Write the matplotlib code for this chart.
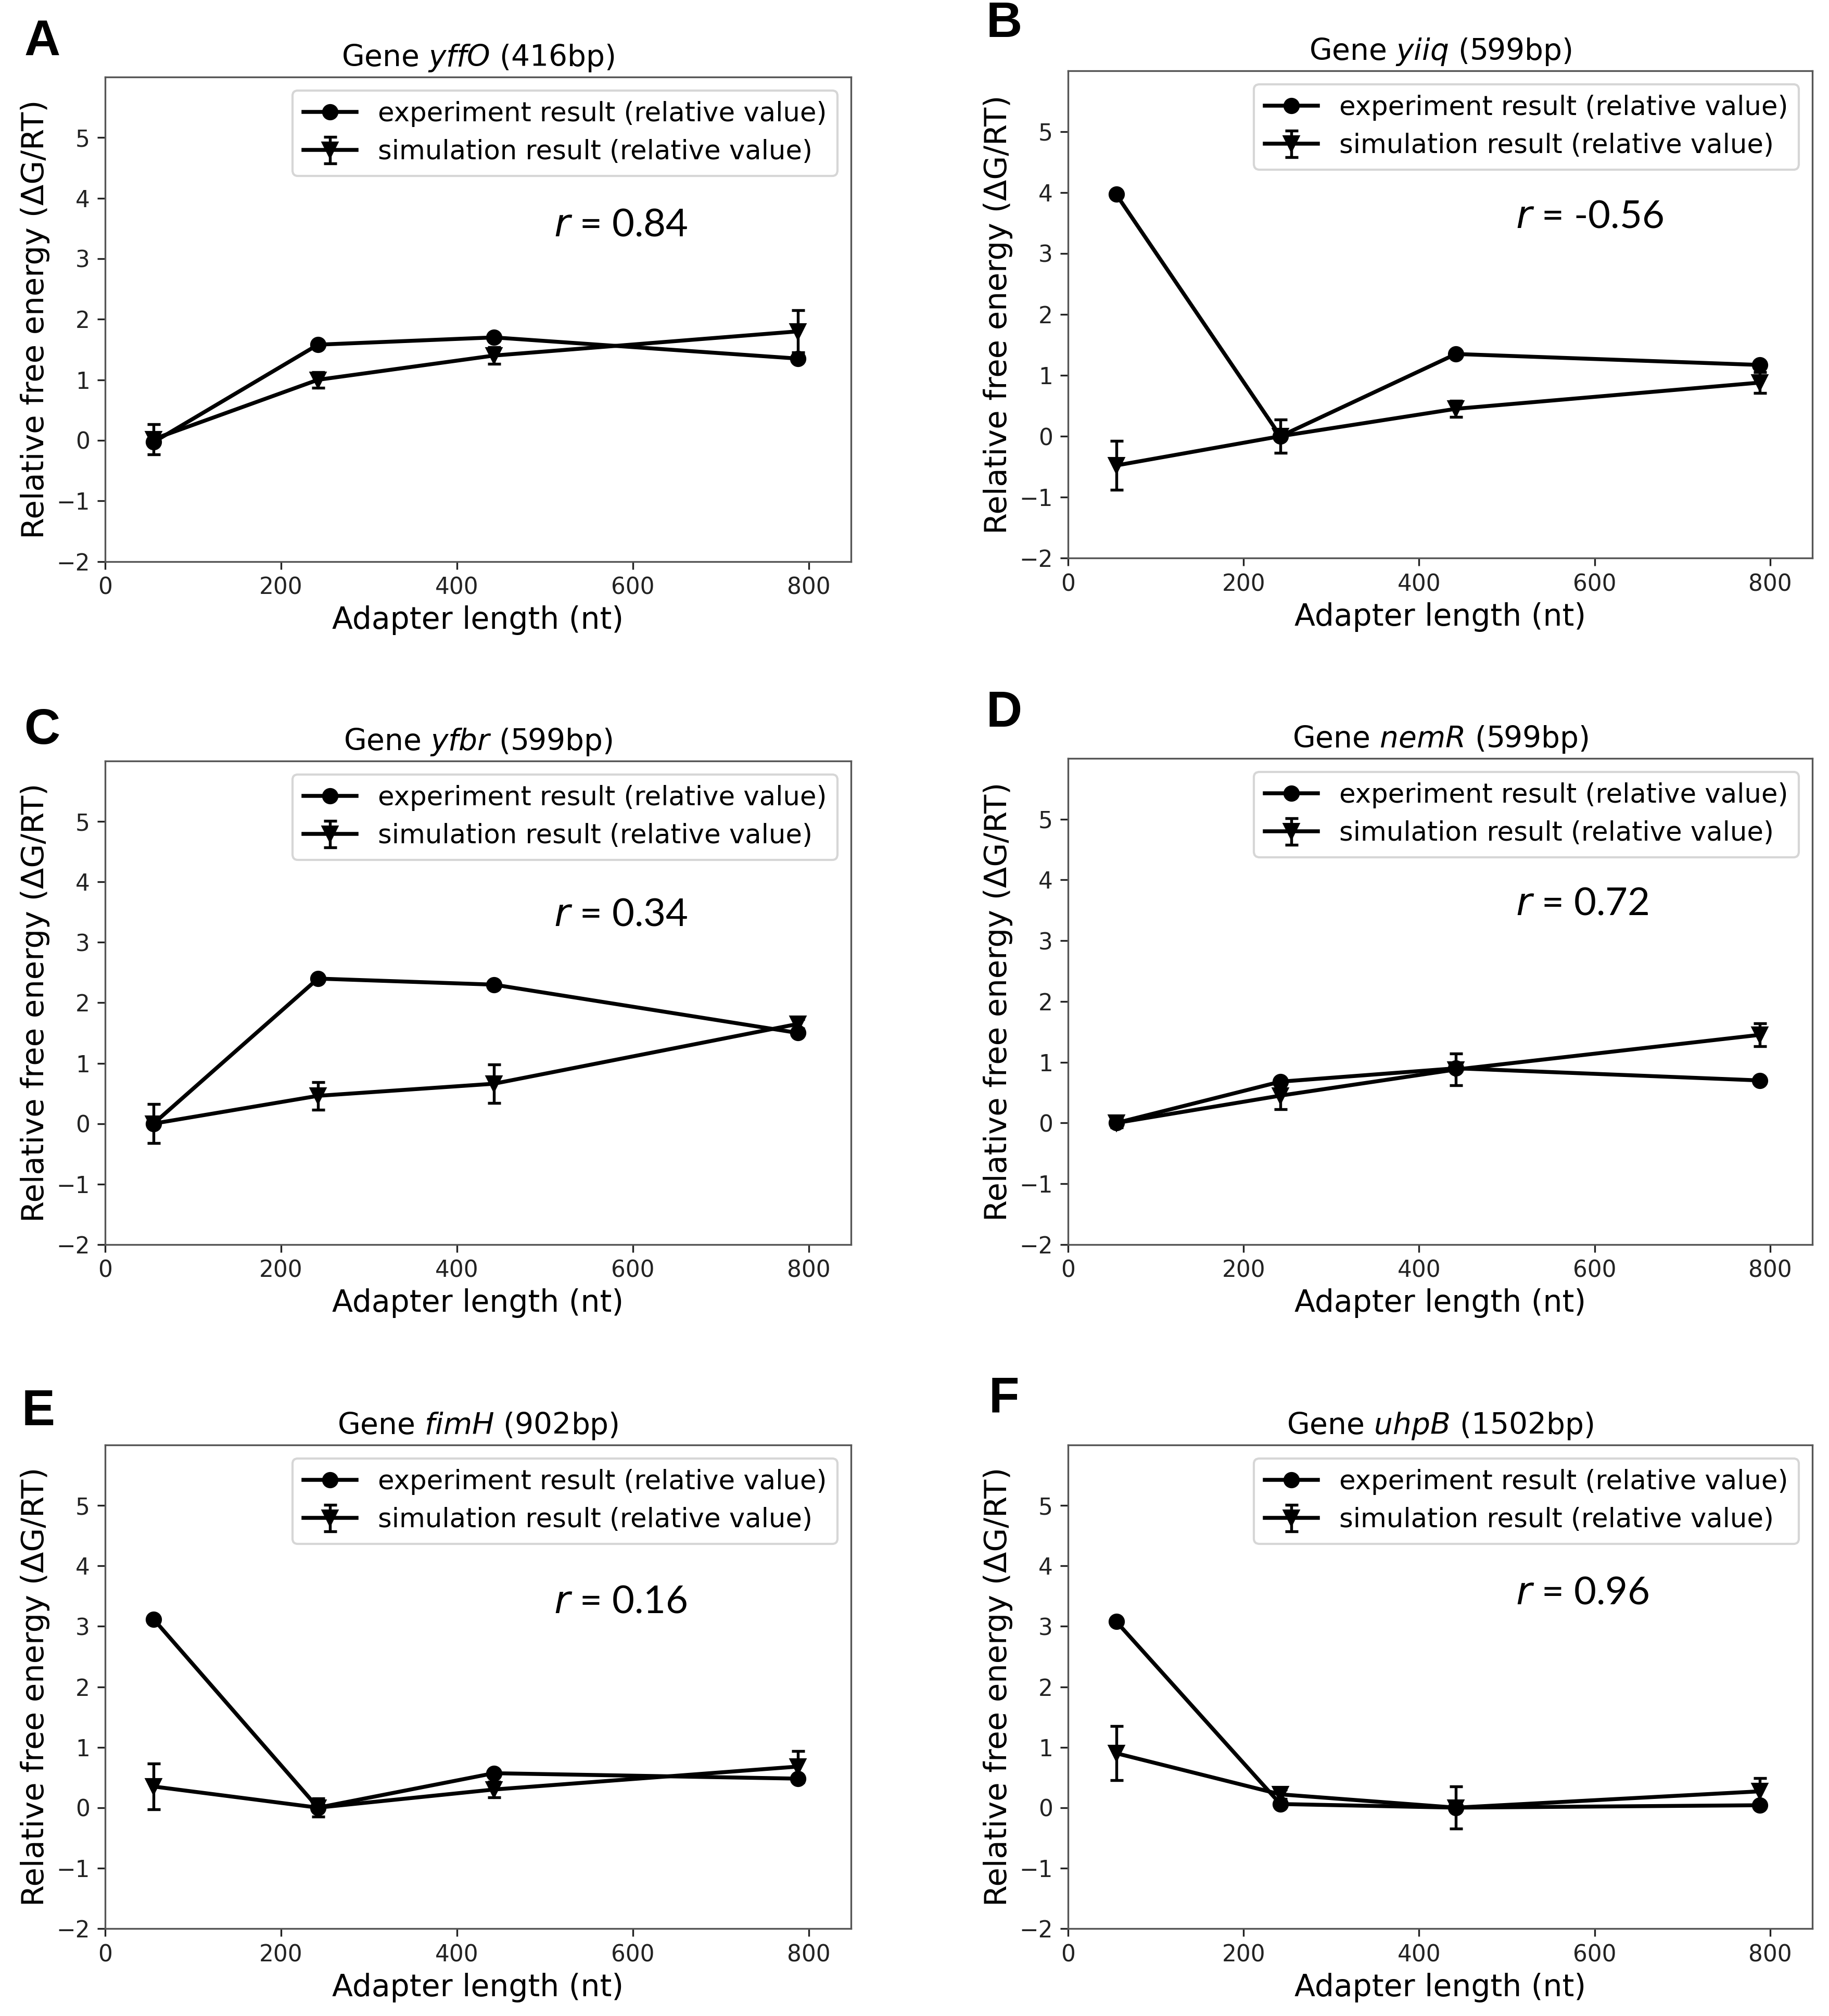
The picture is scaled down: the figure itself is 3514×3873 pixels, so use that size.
import numpy as np
import matplotlib
matplotlib.use("Agg")
import matplotlib.pyplot as plt

# ---- data ----
adapter_len = [55, 242, 442, 788]

genes = ["yffO", "yiiq", "yfbr", "nemR", "fimH", "uhpB"]
gene_len = ["416bp", "599bp", "599bp", "599bp", "902bp", "1502bp"]
panel_letters = ["A", "B", "C", "D", "E", "F"]
r_values = ["0.84", "-0.56", "0.34", "0.72", "0.16", "0.96"]
r_ypos = [3.55, 3.6, 3.45, 3.6, 3.4, 3.55]

exp_A = [-0.03, 1.58, 1.70, 1.35]
exp_B = [3.97, 0.0, 1.35, 1.17]
exp_C = [0.0, 2.40, 2.30, 1.50]
exp_D = [0.0, 0.68, 0.90, 0.70]
exp_E = [3.12, 0.0, 0.57, 0.48]
exp_F = [3.08, 0.06, 0.0, 0.04]

sim_A = [0.02, 1.00, 1.40, 1.80]
sim_B = [-0.48, 0.0, 0.45, 0.88]
sim_C = [0.0, 0.46, 0.66, 1.65]
sim_D = [0.0, 0.45, 0.88, 1.45]
sim_E = [0.35, 0.0, 0.30, 0.68]
sim_F = [0.90, 0.22, 0.0, 0.27]

err_A = [0.25, 0.13, 0.14, 0.35]
err_B = [0.40, 0.27, 0.13, 0.17]
err_C = [0.32, 0.23, 0.32, 0.08]
err_D = [0.07, 0.22, 0.26, 0.19]
err_E = [0.38, 0.15, 0.13, 0.26]
err_F = [0.45, 0.08, 0.35, 0.22]

exps = [exp_A, exp_B, exp_C, exp_D, exp_E, exp_F]
sims = [sim_A, sim_B, sim_C, sim_D, sim_E, sim_F]
errs = [err_A, err_B, err_C, err_D, err_E, err_F]

fig = plt.figure(figsize=(3514 / 300, 3873 / 300), dpi=300)

# axes boxes [left, bottom, width, height] in figure fractions
boxes = [
    [0.0575, 0.7215, 0.4077, 0.2403],
    [0.5839, 0.7232, 0.4070, 0.2417],
    [0.0575, 0.3827, 0.4077, 0.2398],
    [0.5839, 0.3827, 0.4070, 0.2411],
    [0.0575, 0.0434, 0.4077, 0.2398],
    [0.5839, 0.0434, 0.4070, 0.2398],
]
# panel letter centres
letter_xy = [(0.023, 0.979), (0.549, 0.988), (0.023, 0.6375),
             (0.549, 0.646), (0.021, 0.2995), (0.549, 0.306)]

for i in range(6):
    ax = fig.add_axes(boxes[i])
    ax.plot(adapter_len, exps[i], "-o", color="k", lw=1.8, ms=6.5,
            label="experiment result (relative value)")
    ax.errorbar(adapter_len, sims[i], yerr=errs[i], fmt="-v", color="k",
                lw=1.8, ms=6.5, capsize=3, elinewidth=1.3, capthick=1.3,
                label="simulation result (relative value)")
    ax.set_xlim(0, 848)
    ax.set_ylim(-2, 6)
    ax.set_xticks([0, 200, 400, 600, 800])
    ax.set_yticks([-2, -1, 0, 1, 2, 3, 4, 5])
    ax.tick_params(labelsize=10.5, colors="#222222")
    for s in ax.spines.values():
        s.set_color("#555555")
    ax.set_xlabel("Adapter length (nt)", fontsize=14, labelpad=3)
    ax.set_ylabel("Relative free energy (ΔG/RT)", fontsize=14.2, labelpad=3)
    ax.set_title(r"Gene $\it{" + genes[i] + "}$ (" + gene_len[i] + ")",
                 fontsize=13.6, pad=5)
    ax.legend(loc="upper right", fontsize=12.3, handlelength=2.0,
              labelspacing=0.45)
    ax.text(510, r_ypos[i], r"$\it{r}$ = " + r_values[i], fontsize=17.8,
            va="center", ha="left", family="Lato")

    fig.text(letter_xy[i][0], letter_xy[i][1], panel_letters[i],
             fontsize=23, weight="bold", family="Liberation Sans",
             ha="center", va="center")

fig.savefig("out.png", dpi=300, facecolor="white")
